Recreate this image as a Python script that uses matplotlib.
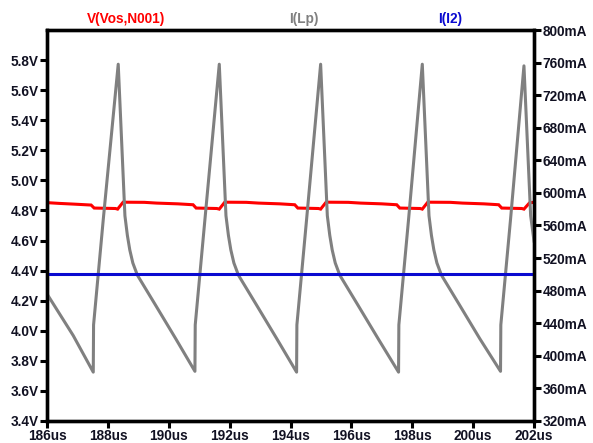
import matplotlib
matplotlib.use("Agg")
import matplotlib.pyplot as plt

plt.rcParams['font.family'] = ['Liberation Sans', 'DejaVu Sans']

# ---- data ----
# V(Vos,N001) [V] on the left axis
v_t = [186.00, 186.40, 186.90, 187.45, 187.55, 188.25, 188.32, 188.50,
       189.20, 189.60, 190.30, 190.80, 190.90, 191.58, 191.66, 191.84,
       192.55, 192.95, 193.65, 194.14, 194.24, 194.92, 194.99, 195.17,
       195.90, 196.30, 197.00, 197.49, 197.59, 198.26, 198.33, 198.51,
       199.25, 199.65, 200.35, 200.84, 200.94, 201.60, 201.67, 201.85, 202.00]
v_val = [4.852, 4.847, 4.842, 4.836, 4.816, 4.813, 4.809, 4.855,
         4.854, 4.849, 4.844, 4.838, 4.816, 4.813, 4.809, 4.855,
         4.854, 4.849, 4.844, 4.838, 4.816, 4.813, 4.809, 4.855,
         4.854, 4.849, 4.844, 4.838, 4.816, 4.813, 4.809, 4.855,
         4.854, 4.849, 4.844, 4.838, 4.816, 4.813, 4.809, 4.850, 4.855]

# I(Lp) [mA] on the right axis
lp_t = [186.00, 186.86, 187.52,
        187.53, 187.85, 188.34, 188.56, 188.64, 188.72, 188.82, 188.97, 189.57, 190.23, 190.86,
        190.87, 191.19, 191.66, 191.88, 191.96, 192.04, 192.14, 192.29, 192.89, 193.55, 194.20,
        194.21, 194.53, 194.99, 195.21, 195.29, 195.37, 195.47, 195.62, 196.22, 196.88, 197.55,
        197.56, 197.88, 198.33, 198.55, 198.63, 198.71, 198.81, 198.96, 199.56, 200.22, 200.90,
        200.91, 201.23, 201.67, 201.89, 202.00]
lp_val = [476, 425, 380,
          438, 568, 758, 572, 548, 530, 514, 499, 462, 421, 381,
          438, 568, 758, 572, 548, 530, 514, 499, 462, 421, 380,
          438, 568, 758, 572, 548, 530, 514, 499, 462, 421, 380,
          438, 568, 758, 572, 548, 530, 514, 499, 462, 421, 381,
          438, 568, 756, 572, 541]

# I(I2) [mA] on the right axis
i2_t = [186.0, 202.0]
i2_val = [500, 500]

x_ticks = [186, 188, 190, 192, 194, 196, 198, 200, 202]
x_labels = [f"{v}us" for v in x_ticks]
v_ticks = [3.4, 3.6, 3.8, 4.0, 4.2, 4.4, 4.6, 4.8, 5.0, 5.2, 5.4, 5.6, 5.8]
v_labels = [f"{v:.1f}V" for v in v_ticks]
i_ticks = [320, 360, 400, 440, 480, 520, 560, 600, 640, 680, 720, 760, 800]
i_labels = [f"{v}mA" for v in i_ticks]

# ---- figure ----
fig = plt.figure(figsize=(5.93, 4.43), dpi=100)
ax = fig.add_axes([47/593, 1-421/443, (534-47)/593, (421-30)/443])
ax2 = ax.twinx()

ax.plot(v_t, v_val, color='#ff0000', lw=2.2, solid_joinstyle='miter')
ax2.plot(lp_t, lp_val, color='#808080', lw=2.2)
ax2.plot(i2_t, i2_val, color='#0a0ad0', lw=2.2)

ax.set_xlim(186, 202)
ax.set_ylim(3.4, 6.0)
ax2.set_ylim(320, 800)

ax.set_xticks(x_ticks)
ax.set_xticklabels(x_labels)
ax.set_yticks(v_ticks)
ax.set_yticklabels(v_labels)
ax2.set_yticks(i_ticks)
ax2.set_yticklabels(i_labels)

for a in (ax, ax2):
    for s in a.spines.values():
        s.set_linewidth(2.4)
        s.set_color('black')
    a.tick_params(direction='out', length=5, width=2.2, labelsize=9.8,
                  pad=1, colors='black')
    for lab in a.get_xticklabels() + a.get_yticklabels():
        lab.set_fontweight('bold')
        lab.set_color('#111122')

ax.text(0.162, 1.028, "V(Vos,N001)", transform=ax.transAxes, ha='center',
        va='center', color='#ff0000', fontsize=9.8, fontweight='bold')
ax.text(0.527, 1.028, "I(Lp)", transform=ax.transAxes, ha='center',
        va='center', color='#808080', fontsize=9.8, fontweight='bold')
ax.text(0.828, 1.028, "I(I2)", transform=ax.transAxes, ha='center',
        va='center', color='#0a0ad0', fontsize=9.8, fontweight='bold')

fig.savefig("out.png", dpi=100)
